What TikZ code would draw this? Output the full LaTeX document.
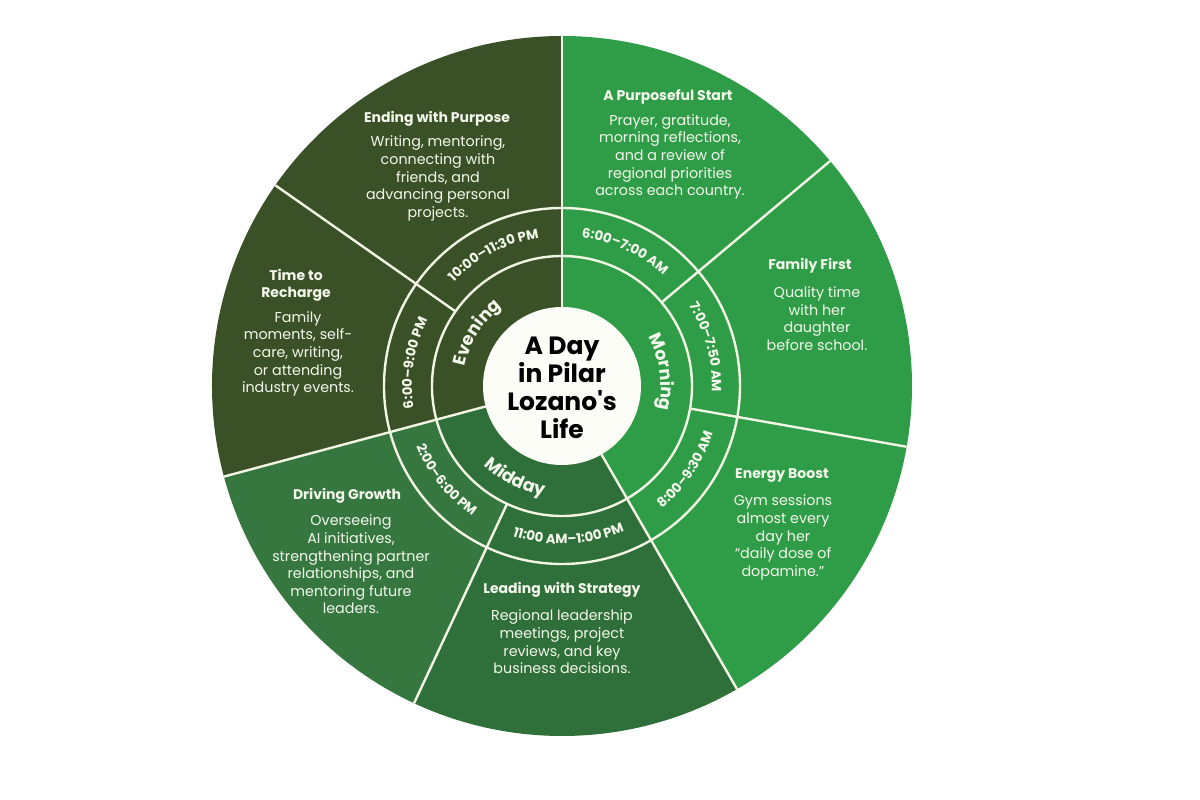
\documentclass[tikz,border=0pt]{standalone}
\usepackage{fontspec}
\setmainfont{Poppins}
\newfontfamily\ctrfont[Ligatures=TeXOff]{Poppins}
\usetikzlibrary{decorations.text}
\definecolor{morn}{HTML}{2F9D47}
\definecolor{midA}{HTML}{2F6F39}
\definecolor{midB}{HTML}{35773F}
\definecolor{eve}{HTML}{3A5027}
\definecolor{lin}{HTML}{F2F5E4}
\definecolor{txt}{HTML}{F4F7EC}
\definecolor{ctr}{HTML}{FDFDF8}
\newcommand{\piewedge}[4]{% color, a1, a2, r
  \fill[#1] (0,0) -- (#2:#4) arc[start angle=#2, end angle=#3, radius=#4] -- cycle;}
\newcommand{\cwlabel}[4]{% font, text, center angle, radius
  \path[decorate, decoration={text along path, text={|#1|#2}, text align=center}]
    ({#3+50}:#4) arc[start angle={#3+50}, end angle={#3-50}, radius=#4];}
\newcommand{\ccwlabel}[4]{%
  \path[decorate, decoration={text along path, text={|#1|#2}, text align=center}]
    ({#3-50}:#4) arc[start angle={#3-50}, end angle={#3+50}, radius=#4];}
\newcommand{\ringfnt}{\color{txt}\bfseries\fontsize{17.5}{20}\selectfont}
\newcommand{\timefnt}{\color{txt}\bfseries\fontsize{13.3}{15}\selectfont}
\begin{document}
\begin{tikzpicture}[x=1pt,y=1pt,
  ttl/.style={text=txt, font=\bfseries\fontsize{14}{17.6}\selectfont, align=center, inner sep=0pt},
  bdy/.style={text=txt, font=\fontsize{14.3}{17.6}\selectfont, align=center, inner sep=0pt},
  sep/.style={draw=lin, line width=2.4pt},
  ctrtxt/.style={text=black, font=\ctrfont\bfseries\fontsize{25}{28}\selectfont, align=center, inner sep=0pt}]
\useasboundingbox (-562,-414) rectangle (638,386);
\fill[white] (-562,-414) rectangle (638,386);
% sectors
\piewedge{morn}{90}{-60}{350}
\piewedge{midA}{-60}{-115}{350}
\piewedge{midB}{-115}{-165}{350}
\piewedge{eve}{-165}{-270}{350}
\piewedge{midA}{-60}{-165}{130}
% ring circles
\draw[sep] (0,0) circle[radius=130];
\draw[sep] (0,0) circle[radius=178];
% radial separators
\draw[sep] (90:79) -- (90:350);
\draw[sep] (-60:79) -- (-60:350);
\draw[sep] (195:79) -- (195:350);
\draw[sep] (40:130) -- (40:350);
\draw[sep] (-10:130) -- (-10:350);
\draw[sep] (-115:130) -- (-115:350);
\draw[sep] (145:130) -- (145:350);
% center
\fill[ctr] (0,0) circle[radius=79];
\node[ctrtxt] (center) at (0,-2) {A Day\\in Pilar\\Lozano's\\Life};
% period labels
\cwlabel{\ringfnt}{Morning}{8}{99}
\cwlabel{\ringfnt}{Evening}{148}{99}
\ccwlabel{\ringfnt}{Midday}{-117}{111}
% time labels
\cwlabel{\timefnt}{10:00–11:30 PM}{117.5}{150}
\cwlabel{\timefnt}{6:00–7:00 AM}{65}{150}
\cwlabel{\timefnt}{7:00–7:50 AM}{15}{150}
\ccwlabel{\timefnt}{8:00–9:30 AM}{-34}{158}
\ccwlabel{\timefnt}{11:00 AM–1:00 PM}{-87.5}{158}
\ccwlabel{\timefnt}{2:00–6:00 PM}{-141}{158}
\cwlabel{\timefnt}{6:00–9:00 PM}{171}{150}
% outer texts
\node[ttl] (t1) at (106,289) {A Purposeful Start};
\node[bdy] (b1) at (108,229) {Prayer, gratitude,\\morning reflections,\\and a review of\\regional priorities\\across each country.};
\node[ttl] (t2) at (248,120) {Family First};
\node[bdy] (b2) at (255,67.5) {Quality time\\with her\\daughter\\before school.};
\node[ttl] (t3) at (220,-90) {Energy Boost};
\node[bdy] (b3) at (221,-151.5) {Gym sessions\\almost every\\day her\\“daily dose of\\dopamine.”};
\node[ttl] (t4) at (0,-204) {Leading with Strategy};
\node[bdy] (b4) at (0,-256) {Regional leadership\\meetings, project\\reviews, and key\\business decisions.};
\node[ttl] (t5) at (-215,-110) {Driving Growth};
\node[bdy] (b5) at (-211,-178.5) {Overseeing\\AI initiatives,\\strengthening partner\\relationships, and\\mentoring future\\leaders.};
\node[ttl] (t6) at (-266,100.5) {Time to\\Recharge};
\node[bdy] (b6) at (-264,32) {Family\\moments, self-\\care, writing,\\or attending\\industry events.};
\node[ttl] (t7) at (-125,267) {Ending with Purpose};
\node[bdy] (b7) at (-124,207.5) {Writing, mentoring,\\connecting with\\friends, and\\advancing personal\\projects.};
\end{tikzpicture}
\end{document}
